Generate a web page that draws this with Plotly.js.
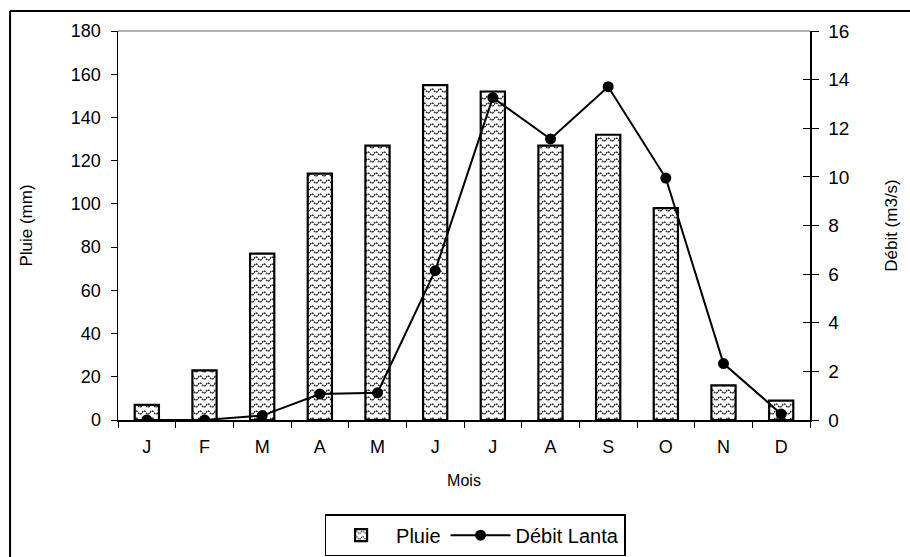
<!DOCTYPE html>
<html><head><meta charset="utf-8">
<script src="https://cdn.plot.ly/plotly-3.0.1.min.js"></script>
<style>html,body{margin:0;padding:0;background:#fff;}#chart{width:910px;height:557px;}</style>
</head><body><div id="chart"></div>
<script>
var months = ['J','F','M','A','M','J','J','A','S','O','N','D'];
var pluie = [7, 23, 77, 114, 127, 155, 152, 127, 132, 98, 16, 9];
var debit = [0, 0, 0.18, 1.07, 1.12, 6.14, 13.26, 11.56, 13.71, 9.95, 2.32, 0.25];
var rainTicks = [0,20,40,60,80,100,120,140,160,180];
var flowTicks = [0,2,4,6,8,10,12,14,16];

var idx = months.map(function(_, i){ return i; });
var bounds = months.map(function(_, i){ return i - 0.5; }).concat([months.length - 0.5]);
var F = 'Arial, "Liberation Sans", sans-serif';

var traces = [
  {type:'bar', name:'Pluie', x: idx, y: pluie, xaxis:'x', yaxis:'y',
   width: 0.42,
   marker:{color:'#ffffff', line:{color:'#000', width:2.2},
           pattern:{shape:'-', fgcolor:'#444', bgcolor:'#fff', size:8, solidity:0.2}}},
  {type:'scatter', mode:'lines+markers', name:'Débit Lanta', x: idx, y: debit,
   xaxis:'x', yaxis:'y2',
   line:{color:'#000', width:2}, marker:{color:'#000', size:11}}
];

var layout = {
  width:910, height:557,
  margin:{l:118, r:100, t:31, b:137, autoexpand:false},
  paper_bgcolor:'#fff', plot_bgcolor:'#fff',
  font:{family:F, color:'#000'},
  showlegend:true,
  legend:{orientation:'h', x:0.516, xanchor:'center', y:-0.242, yanchor:'top',
          bordercolor:'#000', borderwidth:1.5, font:{size:20, family:F},
          itemwidth:60, tracegroupgap:0},
  xaxis:{range:[-0.5, 11.5], tickmode:'array', tickvals: idx, ticktext: months,
         ticks:'', showline:true, linecolor:'#000', linewidth:1.5, showgrid:false, zeroline:false,
         tickfont:{size:18}, ticklabelstandoff:10, automargin:false,
         title:{text:'Mois', font:{size:16}, standoff:18}},
  xaxis2:{overlaying:'x', range:[-0.5, 11.5], tickmode:'array', tickvals: bounds,
          ticks:'outside', ticklen:7, tickcolor:'#000', tickwidth:1, showticklabels:false,
          showline:false, showgrid:false, zeroline:false, anchor:'y'},
  yaxis:{range:[0,180], tickmode:'array', tickvals: rainTicks, ticks:'outside', ticklen:6,
         tickcolor:'#000', showline:true, linecolor:'#000', linewidth:1.5, showgrid:false, zeroline:false,
         tickfont:{size:18}, ticklabelstandoff:6, automargin:false,
         title:{text:'Pluie (mm)', font:{size:17}, standoff:34}},
  yaxis2:{overlaying:'y', side:'right', range:[0,16], tickmode:'array', tickvals: flowTicks,
          ticks:'outside', ticklen:7, tickcolor:'#000', showline:true, linecolor:'#000', linewidth:1.5,
          showgrid:false, zeroline:false, tickfont:{size:19}, ticklabelstandoff:6, automargin:false,
          title:{text:'Débit (m3/s)', font:{size:17}, standoff:36}},
  yaxis3:{overlaying:'y', side:'right', range:[0,16], tickmode:'array', tickvals: flowTicks,
          ticks:'inside', ticklen:7, tickcolor:'#000', showticklabels:false, showline:false,
          showgrid:false, zeroline:false},
  shapes:[
    {type:'line', xref:'paper', yref:'paper', x0:0, x1:1, y0:1, y1:1, line:{color:'#999', width:1.5}},
    {type:'line', xref:'paper', yref:'paper', x0:-0.156, x1:-0.156, y0:-0.45, y1:1.0514,
     line:{color:'#000', width:2}},
    {type:'line', xref:'paper', yref:'paper', x0:-0.156, x1:1.3, y0:1.0514, y1:1.0514,
     line:{color:'#000', width:2}}
  ]
};

traces.push({type:'scatter', x:[], y:[], xaxis:'x2', yaxis:'y3', showlegend:false, hoverinfo:'skip'});

var NS = 'http://www.w3.org/2000/svg';
function wavePatterns(){
  var pats = document.querySelectorAll('#chart pattern');
  pats.forEach(function(p){
    p.setAttribute('width', 8); p.setAttribute('height', 7);
    while (p.firstChild) p.removeChild(p.firstChild);
    var r = document.createElementNS(NS, 'rect');
    r.setAttribute('width', 8); r.setAttribute('height', 7); r.setAttribute('fill', '#fff');
    p.appendChild(r);
    var w = document.createElementNS(NS, 'path');
    w.setAttribute('d', 'M0,3.5 Q2,0.5 4,3.5 T8,3.5');
    w.setAttribute('fill', 'none'); w.setAttribute('stroke', '#222');
    w.setAttribute('stroke-width', '1.4'); w.setAttribute('stroke-dasharray', '1.8,0.8');
    p.appendChild(w);
  });
}

Plotly.newPlot('chart', traces, layout, {displayModeBar:false, staticPlot:true}).then(function(gd){
  wavePatterns();
  gd.on('plotly_afterplot', wavePatterns);
});
</script></body></html>
